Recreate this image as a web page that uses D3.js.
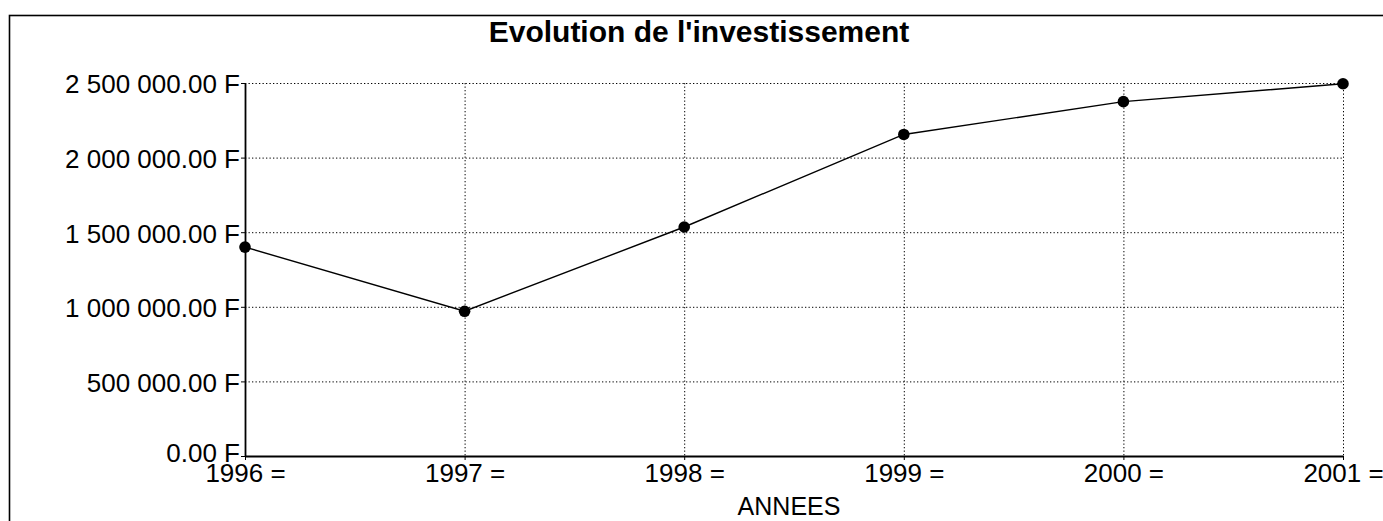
<!DOCTYPE html>
<html>
<head>
<meta charset="utf-8">
<script src="https://cdn.jsdelivr.net/npm/d3@7.9.0/dist/d3.min.js"></script>
<style>
  body { margin: 0; background: #fff; }
  svg { display: block; font-family: "Liberation Sans", Arial, sans-serif; }
  .axis path, .axis line { stroke: #000; }
  .axis text { fill: #000; font-size: 26px; }
  .grid line { stroke: #000; stroke-width: 1; stroke-dasharray: 1.3 2.2; }
</style>
</head>
<body>
<svg id="chart" width="1383" height="521"></svg>
<script>
const years = ['1996', '1997', '1998', '1999', '2000', '2001'];
const investment = [1400000, 970000, 1535000, 2155000, 2375000, 2495000];
const yTicks = [0, 500000, 1000000, 1500000, 2000000, 2500000];

const width = 1383, height = 521;
const margin = { top: 83, right: 40, bottom: 65, left: 245 };

const svg = d3.select('#chart');

// outer frame (runs off the right and bottom edges)
svg.append('rect')
  .attr('x', 9.5).attr('y', 15.5)
  .attr('width', 1400).attr('height', 600)
  .attr('fill', 'none').attr('stroke', '#000').attr('stroke-width', 1.6);

const frLocale = d3.formatLocale({
  decimal: '.', thousands: ' ', grouping: [3], currency: ['', ' F']
});
const fmt = frLocale.format('$,.2f');

const x = d3.scalePoint()
  .domain(years)
  .range([margin.left, width - margin.right]);

const y = d3.scaleLinear()
  .domain([0, 2500000])
  .range([height - margin.bottom, margin.top]);

// title
svg.append('text')
  .attr('x', 699).attr('y', 42)
  .attr('text-anchor', 'middle')
  .attr('font-size', 30).attr('font-weight', 'bold')
  .text("Evolution de l'investissement");

// dotted grid
svg.append('g').attr('class', 'grid')
  .selectAll('line')
  .data(yTicks.filter(d => d > 0))
  .join('line')
  .attr('x1', margin.left).attr('x2', width - margin.right)
  .attr('y1', d => y(d) + 0.5).attr('y2', d => y(d) + 0.5);

svg.append('g').attr('class', 'grid')
  .selectAll('line')
  .data(years.slice(1))
  .join('line')
  .attr('x1', d => x(d) + 0.5).attr('x2', d => x(d) + 0.5)
  .attr('y1', margin.top).attr('y2', height - margin.bottom);

// axes
svg.append('g')
  .attr('class', 'axis')
  .attr('transform', `translate(${margin.left},0)`)
  .call(d3.axisLeft(y).tickValues(yTicks).tickFormat(fmt).tickSize(4).tickSizeOuter(0).tickPadding(1))
  .call(g => g.select('.domain').attr('stroke-width', 1.8))
  .call(g => g.selectAll('text').attr('dy', d => d === 0 ? '0.2em' : '0.38em'));

svg.append('g')
  .attr('class', 'axis')
  .attr('transform', `translate(0,${height - margin.bottom})`)
  .call(d3.axisBottom(x).tickFormat(d => `${d} =`).tickSize(4).tickSizeOuter(0).tickPadding(1))
  .call(g => g.select('.domain').attr('stroke-width', 1.8))
  .call(g => g.selectAll('text').attr('dy', '0.8em'));

// x axis title
svg.append('text')
  .attr('x', 789).attr('y', 515)
  .attr('text-anchor', 'middle')
  .attr('font-size', 25)
  .text('ANNEES');

// series
const line = d3.line()
  .x((d, i) => x(years[i]))
  .y(d => y(d));

svg.append('path')
  .datum(investment)
  .attr('fill', 'none')
  .attr('stroke', '#000')
  .attr('stroke-width', 1.4)
  .attr('d', line);

svg.append('g')
  .selectAll('circle')
  .data(investment)
  .join('circle')
  .attr('cx', (d, i) => x(years[i]))
  .attr('cy', d => y(d))
  .attr('r', 5.8)
  .attr('fill', '#000');
</script>
</body>
</html>
